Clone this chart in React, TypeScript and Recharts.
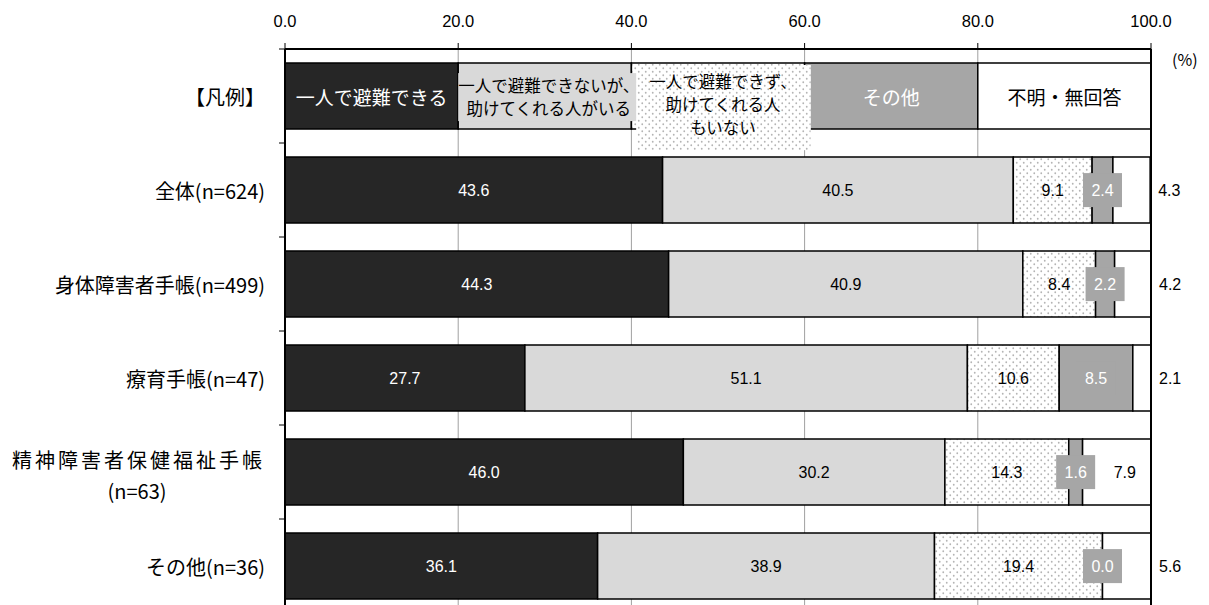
import React from 'react';
import { BarChart, Bar, XAxis, YAxis, CartesianGrid, ReferenceLine, LabelList } from 'recharts';

const categories = [
  '【凡例】',
  '全体(n=624)',
  '身体障害者手帳(n=499)',
  '療育手帳(n=47)',
  '精神障害者保健福祉手帳\n(n=63)',
  'その他(n=36)',
];
// first entry of each series is the legend row (20 each)
const alone = [20, 43.6, 44.3, 27.7, 46.0, 36.1];
const withHelp = [20, 40.5, 40.9, 51.1, 30.2, 38.9];
const noHelp = [20, 9.1, 8.4, 10.6, 14.3, 19.4];
const other = [20, 2.4, 2.2, 8.5, 1.6, 0.0];
const unknown = [20, 4.3, 4.2, 2.1, 7.9, 5.6];
const xTicks = [0, 20, 40, 60, 80, 100];

const legendAlone = ['一人で避難できる'];
const legendWithHelp = ['一人で避難できないが、', '助けてくれる人がいる'];
const legendNoHelp = ['一人で避難できず、', '助けてくれる人', 'もいない'];
const legendOther = ['その他'];
const legendUnknown = ['不明・無回答'];

const data = categories.map((name, i) => ({
  name,
  alone: alone[i],
  withHelp: withHelp[i],
  noHelp: noHelp[i],
  other: other[i],
  unknown: unknown[i],
}));

const JP = '"Noto Sans CJK JP", "Noto Sans", sans-serif';
const NUM = '"Liberation Sans", Arial, sans-serif';
const BAND = 94;

const getBox = (props: any) => {
  const vb = props.viewBox || props;
  return { x: Number(vb.x), y: Number(vb.y), width: Number(vb.width), height: Number(vb.height) };
};

const makeLabel = (key: string) => (props: any) => {
  const { x, y, width, height } = getBox(props);
  const index = props.index;
  const cx = x + width / 2;
  const cy = y + height / 2;

  if (index === 0) {
    if (key === 'alone') {
      return (
        <text x={cx} y={cy} fill="#fff" fontSize={19} fontFamily={JP} textAnchor="middle" dominantBaseline="central">
          {legendAlone[0]}
        </text>
      );
    }
    if (key === 'withHelp') {
      return (
        <g>
          <rect x={x} y={y + 10} width={width + 12} height={48} fill="#d9d9d9" />
          {legendWithHelp.map((t, i) => (
            <text key={i} x={cx + 4} y={cy - 11 + i * 23} fill="#000" fontSize={16.5} fontFamily={JP}
              textAnchor="middle" dominantBaseline="central">{t}</text>
          ))}
        </g>
      );
    }
    if (key === 'noHelp') {
      return (
        <g>
          <rect x={x + 5} y={y + 2} width={width + 1} height={85} fill="#fff" />
          <rect x={x + 5} y={y + 2} width={width + 1} height={85} fill="url(#dots)" />
          {legendNoHelp.map((t, i) => (
            <text key={i} x={cx + 5} y={cy - 15 + i * 23} fill="#000" fontSize={16.5} fontFamily={JP}
              textAnchor="middle" dominantBaseline="central">{t}</text>
          ))}
        </g>
      );
    }
    if (key === 'other') {
      return (
        <text x={cx} y={cy} fill="#fff" fontSize={19} fontFamily={JP} textAnchor="middle" dominantBaseline="central">
          {legendOther[0]}
        </text>
      );
    }
    return (
      <text x={cx} y={cy} fill="#000" fontSize={19} fontFamily={JP} textAnchor="middle" dominantBaseline="central">
        {legendUnknown[0]}
      </text>
    );
  }

  // the "other" labels are drawn from the unknown segment so a 0.0 value still gets its box
  if (key === 'other') return null;

  const value = Number(props.value);
  const txt = value.toFixed(1);
  if (key === 'unknown') {
    const pxPerUnit = width / value;
    const ov = other[index];
    const ocx = x - (ov * pxPerUnit) / 2;
    return (
      <g>
        <rect x={ocx - 19.5} y={cy - 17} width={39} height={34} fill="#a6a6a6" />
        <text x={ocx} y={cy} fill="#fff" fontSize={16} fontFamily={NUM} textAnchor="middle" dominantBaseline="central">
          {ov.toFixed(1)}
        </text>
        {value < 6 ? (
          <text x={x + width + 8} y={cy} fill="#000" fontSize={16} fontFamily={NUM} textAnchor="start" dominantBaseline="central">{txt}</text>
        ) : (
          <text x={cx + 8} y={cy} fill="#000" fontSize={16} fontFamily={NUM} textAnchor="middle" dominantBaseline="central">{txt}</text>
        )}
      </g>
    );
  }
  return (
    <text x={cx} y={cy} fill={key === 'alone' ? '#fff' : '#000'} fontSize={16} fontFamily={NUM}
      textAnchor="middle" dominantBaseline="central">{txt}</text>
  );
};

const CategoryTick = (props: any) => {
  const { x, y, payload, index } = props;
  const lines = String(payload.value).split('\n');
  return (
    <g>
      <line x1={x + 14} x2={x + 20} y1={y - BAND / 2} y2={y - BAND / 2} stroke="#000" strokeWidth={1} />
      {index === categories.length - 1 && (
        <line x1={x + 14} x2={x + 20} y1={y + BAND / 2} y2={y + BAND / 2} stroke="#000" strokeWidth={1} />
      )}
      {lines.length === 1 ? (
        <text x={x} y={y} fill="#000" fontSize={20} fontFamily={JP} textAnchor="end" dominantBaseline="central">
          {lines[0]}
        </text>
      ) : (
        <g>
          <text x={x} y={y - 13} fill="#000" fontSize={20} fontFamily={JP} letterSpacing={3} textAnchor="end" dominantBaseline="central">
            {lines[0]}
          </text>
          <text x={x - 128} y={y + 18} fill="#000" fontSize={20} fontFamily={JP} textAnchor="middle" dominantBaseline="central">
            {lines[1]}
          </text>
        </g>
      )}
    </g>
  );
};

const series = [
  { key: 'alone', fill: '#262626' },
  { key: 'withHelp', fill: '#d9d9d9' },
  { key: 'noHelp', fill: 'url(#dots)' },
  { key: 'other', fill: '#a6a6a6' },
  { key: 'unknown', fill: '#ffffff' },
];

export default function App() {
  return (
    <div style={{ position: 'absolute', left: 0, top: 0, width: 1209, height: 613, background: '#fff' }}>
      <BarChart
        width={1209}
        height={613}
        data={data}
        layout="vertical"
        margin={{ top: 0, right: 58, left: 0, bottom: 0 }}
        barCategoryGap="15%"
      >
        <defs>
          <pattern id="dots" width="7" height="7" patternUnits="userSpaceOnUse">
            <rect width="7" height="7" fill="#fff" />
            <circle cx="1.75" cy="1.75" r="0.9" fill="#b4b4b4" />
            <circle cx="5.25" cy="5.25" r="0.9" fill="#b4b4b4" />
          </pattern>
        </defs>
        <CartesianGrid horizontal={false} vertical stroke="#a0a0a0" strokeWidth={1} />
        <XAxis
          type="number"
          orientation="top"
          domain={[0, 100]}
          ticks={xTicks}
          height={49}
          tickFormatter={(v: number) => v.toFixed(1)}
          axisLine={{ stroke: '#000', strokeWidth: 2 }}
          tickLine={{ stroke: '#000' }}
          tickSize={6}
          tickMargin={16}
          tick={{ fill: '#000', fontSize: 16.5, fontFamily: NUM }}
          interval={0}
        />
        <YAxis
          type="category"
          dataKey="name"
          width={285}
          axisLine={{ stroke: '#000', strokeWidth: 2 }}
          tickLine={false}
          tickSize={0}
          tickMargin={20}
          tick={<CategoryTick />}
          interval={0}
        />
        <ReferenceLine x={100} stroke="#000" strokeWidth={2} ifOverflow="extendDomain" />
        {series.map((s) => (
          <Bar key={s.key} dataKey={s.key} stackId="s" fill={s.fill} stroke="#000" strokeWidth={1.5} isAnimationActive={false}>
            <LabelList dataKey={s.key} content={makeLabel(s.key)} />
          </Bar>
        ))}
        <text x={1172} y={66} fontSize={16} fontFamily={JP} fill="#000">(%)</text>
      </BarChart>
    </div>
  );
}
